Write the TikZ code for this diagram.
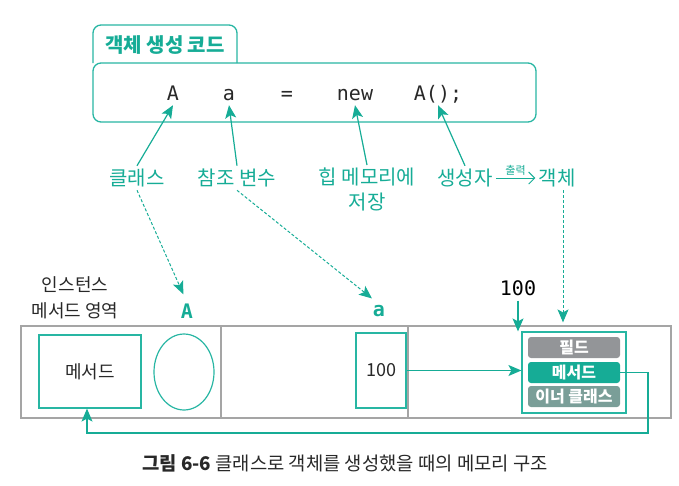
\documentclass[tikz,border=0pt]{standalone}
\usepackage{fontspec}
\setmainfont{Noto Sans CJK KR}
\setmonofont{DejaVu Sans Mono}
\usetikzlibrary{arrows.meta}
\definecolor{hteal}{RGB}{22,172,150}
\definecolor{tealline}{RGB}{40,182,163}
\definecolor{framegray}{RGB}{165,165,165}
\definecolor{fieldgray}{RGB}{147,149,152}
\definecolor{innergray}{RGB}{122,158,152}
\definecolor{ink}{RGB}{40,40,40}
\begin{document}
\begin{tikzpicture}[x=1pt,y=-1pt]
		\tikzset{lbl/.style = {text=hteal, font=\fontsize{20}{25}\selectfont, inner sep=3pt}}
		\tikzset{tok/.style = {text=ink, font=\ttfamily\fontsize{20}{22}\selectfont, inner sep=1pt, text height=15pt, text depth=4pt}}
		\tikzset{pin/.style = {draw=hteal, line width=1.2pt, -{Stealth[length=13pt,width=11pt,inset=3pt]}}}
		\tikzset{dpin/.style = {pin, line width=1pt, dash pattern=on 3pt off 2pt, shorten >=9pt}}
		\tikzset{memo/.style = {text=ink, font=\fontsize{18}{26}\selectfont}}
		\tikzset{cell/.style = {draw=tealline, line width=1.2pt}}
		\tikzset{bar/.style = {rounded corners=3pt, minimum width=92pt, minimum height=21pt, inner sep=0pt, text=white, font=\bfseries\fontsize{16}{17}\selectfont}}
		\useasboundingbox (0,0) rectangle (679,485);
		% code box
		\draw[tealline, line width=1.3pt, rounded corners=8pt] (93,63) -- (93,25) -- (237,25) -- (237,63);
		\node[text=hteal, font=\bfseries\fontsize{20}{22}\selectfont] (tab) at (165,45) {객체 생성 코드};
		\node[draw=tealline, line width=1.3pt, rounded corners=8pt, minimum width=443pt, minimum height=59pt] (codebox) at (314.5,92.5) {};
		\node[tok] (tokA) at (173,94.5) {A};
		\node[tok] (toka) at (229,94.5) {a};
		\node[tok] (tokeq) at (287,94.5) {=};
		\node[tok] (toknew) at (355,94.5) {new};
		\node[tok] (tokctor) at (438,94.5) {A();};
		% labels
		\node[lbl] (lclass) at (137,178) {클래스};
		\node[lbl] (lref) at (237,178) {참조 변수};
		\node[lbl, align=center, anchor=north] (lheap) at (367,165) {힙 메모리에\\저장};
		\node[lbl] (lctor) at (465,178) {생성자};
		\node[lbl] (lobj) at (557,178) {객체};
		\draw[pin] (lclass.north) -- (tokA.south);
		\draw[pin] (lref.north) -- (toka.south);
		\draw[pin] (lheap.north) -- (toknew.south);
		\draw[pin] (lctor.north) -- (tokctor.south);
		\draw[hteal, line width=1pt, -{Straight Barb[length=6pt,width=12pt]}] (lctor.east) -- node[above=-1pt, font=\fontsize{11}{12}\selectfont, text=hteal] {출력} (lobj.west);
		% memory
		\draw[framegray, line width=1.3pt] (21,326) rectangle (671,418);
		\draw[framegray, line width=1.3pt] (221,326) -- (221,418);
		\draw[framegray, line width=1.3pt] (408,326) -- (408,418);
		\node[memo, align=center] (instlbl) at (75,298) {인스턴스\\메서드 영역};
		\node[cell, memo, minimum width=102pt, minimum height=73pt] (methodbox) at (90,371.5) {메서드};
		\draw[cell] (184,372) ellipse [x radius=30pt, y radius=38pt];
		\node[text=hteal, font=\ttfamily\bfseries\fontsize{20}{22}\selectfont, inner sep=1pt] (labA) at (187,311) {A};
		\node[text=hteal, font=\ttfamily\bfseries\fontsize{20}{22}\selectfont, inner sep=1pt] (laba) at (379,311) {a};
		\node[cell, text=ink, font=\fontsize{18}{20}\selectfont, minimum width=50pt, minimum height=75pt] (refbox) at (381,370.5) {100};
		\node[cell, minimum width=104pt, minimum height=81pt] (objbox) at (574,372.5) {};
		\node[bar, fill=fieldgray] (barfield) at (574,347.5) {필드};
		\node[bar, fill=hteal] (barmethod) at (574,372.5) {메서드};
		\node[bar, fill=innergray] (barinner) at (574,396.5) {이너 클래스};
		\node[tok, text=black] (hundred) at (518,290) {100};
		\draw[dpin] (lclass.south) -- (labA.north);
		\draw[dpin] (lref.south) -- (laba.north);
		\draw[dpin] ([xshift=6pt]lobj.south) -- ([xshift=6pt]lobj.south |- objbox.north);
		\draw[pin] (hundred.south) -- (hundred.south |- objbox.north);
		\draw[pin] (refbox.east) -- (refbox.east -| objbox.west);
		\coordinate (loopcorner) at (648,433);
		\draw[pin] (barmethod.east) -| (loopcorner) -| ([xshift=-3pt]methodbox.south);
		% caption
		\node[text=ink, font=\fontsize{18.8}{20}\selectfont] (caption) at (345,463) {\textbf{그림 6-6} 클래스로 객체를 생성했을 때의 메모리 구조};
	\end{tikzpicture}
\end{document}
